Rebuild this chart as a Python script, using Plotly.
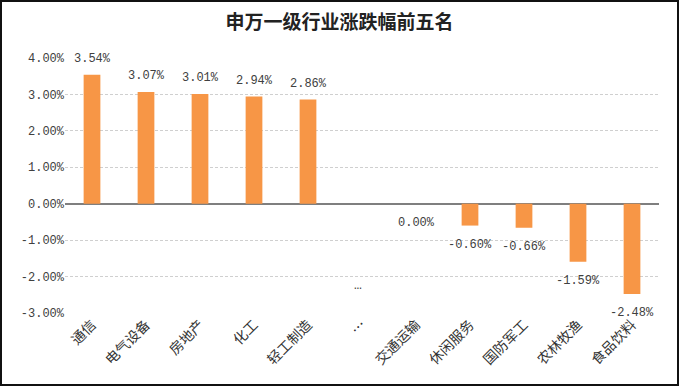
import plotly.graph_objects as go

categories = ["通信", "电气设备", "房地产", "化工", "轻工制造", "…", "交通运输", "休闲服务", "国防军工", "农林牧渔", "食品饮料"]
values = [3.54, 3.07, 3.01, 2.94, 2.86, None, 0.00, -0.60, -0.66, -1.59, -2.48]
label_below = [False, False, False, False, False, None, True, True, True, True, True]
ellipsis_label = "…"
ellipsis_value = -2.25
y_ticks = [4, 3, 2, 1, 0, -1, -2, -3]
y_tick_labels = ["4.00%", "3.00%", "2.00%", "1.00%", "0.00%", "-1.00%", "-2.00%", "-3.00%"]
title = "申万一级行业涨跌幅前五名"

W, H = 679, 386
ML, MR, MT, MB = 65, 20, 58, 73
NUMFONT = "Liberation Mono, monospace"
CJKFONT = "Noto Sans CJK SC, sans-serif"

fig = go.Figure()
fig.add_trace(go.Bar(
    x=categories,
    y=values,
    marker=dict(color="#F79646", line=dict(width=0)),
    width=0.31,
    hoverinfo="skip",
))

annotations = []
for c, v, below in zip(categories, values, label_below):
    if v is None:
        continue
    annotations.append(dict(
        x=c, y=v, xref="x", yref="y",
        text=f"{v:.2f}%",
        showarrow=False,
        yanchor="top" if below else "bottom",
        yshift=-10 if below else 7,
        font=dict(family=NUMFONT, size=12, color="#404040"),
    ))
annotations.append(dict(
    x=ellipsis_label, y=ellipsis_value, xref="x", yref="y",
    text="…", showarrow=False, xshift=-4,
    font=dict(family=NUMFONT, size=13, color="#404040"),
))

pw = W - ML - MR
ph = H - MT - MB
fig.add_shape(type="rect", xref="paper", yref="paper",
              x0=(1 - ML) / pw, x1=(W - 1 - ML) / pw,
              y0=(1 - MB) / ph, y1=(H - MB - 1) / ph,
              line=dict(color="#111111", width=2), fillcolor="rgba(0,0,0,0)", layer="above")

fig.update_layout(
    width=W, height=H,
    margin=dict(l=ML, r=MR, t=MT, b=MB, autoexpand=False),
    paper_bgcolor="white", plot_bgcolor="white",
    showlegend=False,
    title=dict(text=f"<b>{title}</b>", x=0.5, xanchor="center", y=1 - 22 / H, yanchor="middle",
               font=dict(family=CJKFONT, size=19, color="#222222")),
    annotations=annotations,
)
fig.update_yaxes(
    range=[-3, 4], automargin=False,
    tickvals=y_ticks, ticktext=y_tick_labels,
    showgrid=True, gridcolor="#CFCFCF", griddash="3px,2px", gridwidth=1,
    zeroline=True, zerolinecolor="#7F7F7F", zerolinewidth=1.5,
    showline=False, ticks="",
    tickfont=dict(family=NUMFONT, size=12, color="#404040"),
)
fig.update_xaxes(
    tickangle=-45, automargin=False,
    showline=False, ticks="", showgrid=False,
    tickfont=dict(family=CJKFONT, size=14, color="#333333"),
)

fig.write_html("out.html", config={"displayModeBar": False},
               post_script="document.body.style.margin='0';document.body.style.overflow='hidden';")
